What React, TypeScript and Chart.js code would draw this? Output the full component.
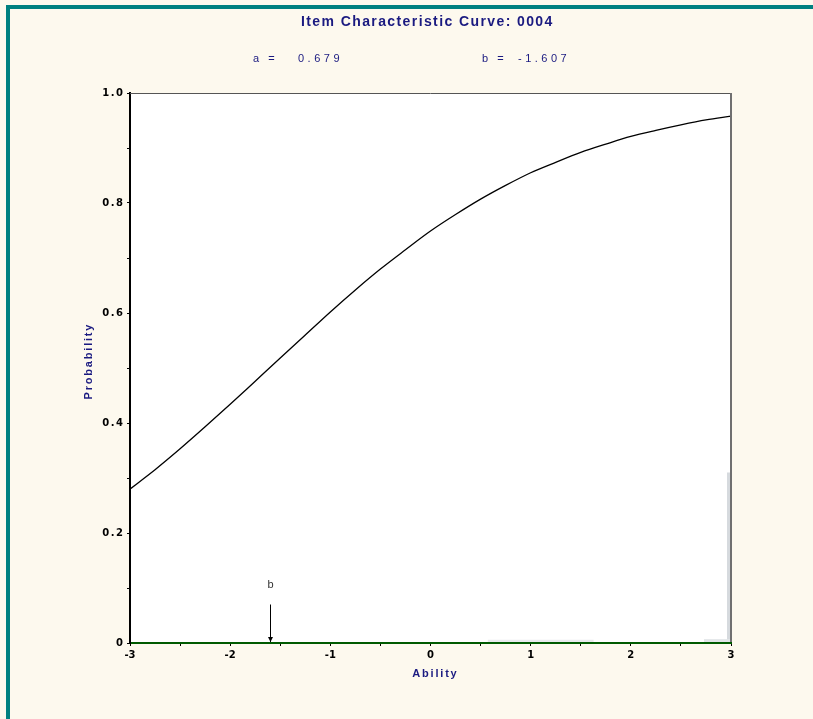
import { useEffect, useRef } from "react";
import { Chart, registerables } from "chart.js";

Chart.register(...registerables);

const TITLE = "Item Characteristic Curve: 0004";
const A_TEXT = "0.679";
const B_TEXT = "-1.607";
const B_VALUE = -1.607;

const abilityPoints = [
  -3, -2.75, -2.5, -2.25, -2, -1.75, -1.5, -1.25, -1, -0.75, -0.5, -0.25, 0,
  0.25, 0.5, 0.75, 1, 1.25, 1.5, 1.75, 2, 2.25, 2.5, 2.75, 3,
];
const probabilityValues = [
  0.280, 0.315, 0.353, 0.393, 0.434, 0.476, 0.518, 0.560, 0.602, 0.642, 0.680,
  0.715, 0.749, 0.779, 0.807, 0.832, 0.855, 0.874, 0.892, 0.907, 0.921, 0.932,
  0.942, 0.951, 0.958,
];

const histStart = [0.57, 2.73, 2.96];
const histEnd = [1.63, 3.0, 3.0];
const histHeight = [0.006, 0.007, 0.31];
const histColors = ["#e9ebed", "#e2e5e8", "#d6dade"];

const xTickValues = [-3, -2, -1, 0, 1, 2, 3];
const xTickLabels = ["-3", "-2", "-1", "0", "1", "2", "3"];
const yTickValues = [0, 0.2, 0.4, 0.6, 0.8, 1.0];
const yTickLabels = ["0", "0.2", "0.4", "0.6", "0.8", "1.0"];

const ARROW_TOP = 0.07;
const B_LABEL_Y = 0.105;

const NAVY = "#1a1a80";
const CREAM = "#fdf9ee";
const TEAL = "#008080";

function drawText(
  ctx: CanvasRenderingContext2D,
  text: string,
  x: number,
  y: number,
  font: string,
  color: string,
  align: CanvasTextAlign,
  baseline: CanvasTextBaseline,
  spacing: number
) {
  ctx.save();
  ctx.font = font;
  ctx.fillStyle = color;
  (ctx as any).letterSpacing = spacing + "px";
  ctx.textAlign = "left";
  ctx.textBaseline = baseline;
  const w = ctx.measureText(text).width - spacing;
  let sx = x;
  if (align === "center") sx = x - w / 2;
  else if (align === "right") sx = x - w;
  ctx.fillText(text, sx, y);
  ctx.restore();
}

const decorPlugin = {
  id: "decor",
  beforeDraw(chart: any) {
    const { ctx, chartArea } = chart;
    ctx.save();
    ctx.fillStyle = CREAM;
    ctx.fillRect(0, 0, chart.width, chart.height);
    ctx.fillStyle = TEAL;
    ctx.fillRect(6, 5, chart.width - 6, 4);
    ctx.fillRect(6, 5, 4, chart.height - 5);
    ctx.fillStyle = "#ffffff";
    ctx.fillRect(
      chartArea.left,
      chartArea.top,
      chartArea.right - chartArea.left,
      chartArea.bottom - chartArea.top
    );
    ctx.restore();
  },
  afterDraw(chart: any) {
    const { ctx, chartArea, scales } = chart;
    const xs = scales.x;
    const ys = scales.y;
    ctx.save();
    // top and right frame
    ctx.strokeStyle = "#555555";
    ctx.lineWidth = 1;
    ctx.beginPath();
    ctx.moveTo(chartArea.left, chartArea.top + 0.5);
    ctx.lineTo(chartArea.right, chartArea.top + 0.5);
    ctx.stroke();
    ctx.strokeStyle = "#707070";
    ctx.lineWidth = 2;
    ctx.beginPath();
    ctx.moveTo(chartArea.right, chartArea.top);
    ctx.lineTo(chartArea.right, chartArea.bottom - 1);
    ctx.stroke();

    // b arrow
    const bx = Math.round(xs.getPixelForValue(B_VALUE)) + 0.5;
    const yTop = ys.getPixelForValue(ARROW_TOP);
    const yBot = ys.getPixelForValue(0) - 1;
    ctx.strokeStyle = "#000000";
    ctx.lineWidth = 1;
    ctx.beginPath();
    ctx.moveTo(bx, yTop);
    ctx.lineTo(bx, yBot);
    ctx.stroke();
    ctx.fillStyle = "#000000";
    ctx.beginPath();
    ctx.moveTo(bx - 2.5, yBot - 5);
    ctx.lineTo(bx + 2.5, yBot - 5);
    ctx.lineTo(bx, yBot);
    ctx.closePath();
    ctx.fill();
    ctx.restore();

    drawText(ctx, "b", bx, ys.getPixelForValue(B_LABEL_Y), "11px 'Liberation Sans', Arial, sans-serif", "#333333", "center", "middle", 0);

    // tick labels
    const tickFont = "bold 10px 'DejaVu Sans', Verdana, sans-serif";
    yTickValues.forEach((v, i) => {
      drawText(ctx, yTickLabels[i], chartArea.left - 7, ys.getPixelForValue(v) + 0.5, tickFont, "#000000", "right", "middle", 1.5);
    });
    xTickValues.forEach((v, i) => {
      drawText(ctx, xTickLabels[i], xs.getPixelForValue(v), chartArea.bottom + 12, tickFont, "#000000", "center", "middle", 0);
    });

    // titles
    drawText(ctx, TITLE, 301, 26, "bold 14px 'Liberation Sans', Arial, sans-serif", NAVY, "left", "alphabetic", 1.4);
    const subFont = "11px 'Liberation Sans', Arial, sans-serif";
    drawText(ctx, "a =", 253, 62, subFont, NAVY, "left", "alphabetic", 3);
    drawText(ctx, A_TEXT, 298, 62, subFont, NAVY, "left", "alphabetic", 3.5);
    drawText(ctx, "b =", 482, 62, subFont, NAVY, "left", "alphabetic", 3);
    drawText(ctx, B_TEXT, 518, 62, subFont, NAVY, "left", "alphabetic", 3.5);

    const axisFont = "bold 11px 'Liberation Sans', Arial, sans-serif";
    drawText(ctx, "Ability", (chartArea.left + chartArea.right) / 2 + 4, 674, axisFont, NAVY, "center", "middle", 1.8);
    ctx.save();
    ctx.translate(89, 362);
    ctx.rotate(-Math.PI / 2);
    drawText(ctx, "Probability", 0, 0, axisFont, NAVY, "center", "middle", 1.8);
    ctx.restore();
  },
};

export default function App() {
  const canvasRef = useRef<HTMLCanvasElement | null>(null);

  useEffect(() => {
    document.body.style.margin = "0";
    const canvas = canvasRef.current;
    if (!canvas) return;

    const histDatasets = histStart.map((s, i) => ({
      type: "line" as const,
      data: [
        { x: s, y: 0 },
        { x: s, y: histHeight[i] },
        { x: histEnd[i], y: histHeight[i] },
        { x: histEnd[i], y: 0 },
      ],
      borderWidth: 0,
      borderColor: "rgba(0,0,0,0)",
      backgroundColor: histColors[i],
      fill: "origin",
      pointRadius: 0,
      tension: 0,
      order: 2,
    }));

    const chart = new Chart(canvas, {
      type: "line",
      data: {
        datasets: [
          {
            data: abilityPoints.map((x, i) => ({ x, y: probabilityValues[i] })),
            borderColor: "#000000",
            borderWidth: 1.3,
            pointRadius: 0,
            fill: false,
            cubicInterpolationMode: "monotone",
            order: 1,
          },
          ...histDatasets,
        ] as any,
      },
      plugins: [decorPlugin],
      options: {
        responsive: false,
        animation: false,
        layout: { padding: { left: 0, right: 82, top: 93, bottom: 0 } },
        plugins: {
          legend: { display: false },
          title: { display: false },
          tooltip: { enabled: false },
        },
        scales: {
          x: {
            type: "linear",
            min: -3,
            max: 3,
            ticks: { stepSize: 0.5, display: false, z: 2 },
            grid: {
              display: true,
              drawOnChartArea: false,
              drawTicks: true,
              tickLength: 3,
              color: "#000000",
              z: 2,
            },
            border: { display: true, color: "#005a00", width: 2, z: 2 },
            afterFit: (scale: any) => {
              scale.height = 76;
            },
          },
          y: {
            type: "linear",
            min: 0,
            max: 1,
            ticks: { stepSize: 0.1, display: false, z: 2 },
            grid: {
              display: true,
              drawOnChartArea: false,
              drawTicks: true,
              tickLength: 3,
              color: "#000000",
              z: 2,
            },
            border: { display: true, color: "#000000", width: 2, z: 2 },
            afterFit: (scale: any) => {
              scale.width = 130;
            },
          },
        },
      } as any,
    });
    return () => chart.destroy();
  }, []);

  return (
    <div style={{ width: 813, height: 719 }}>
      <canvas ref={canvasRef} width={813} height={719} style={{ display: "block" }} />
    </div>
  );
}
